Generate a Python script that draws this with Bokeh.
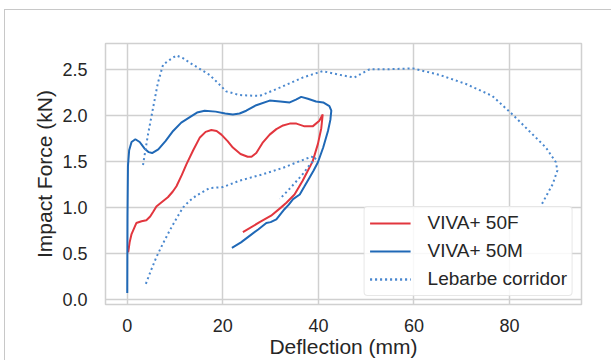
from bokeh.plotting import figure
from bokeh.models import FixedTicker, NumeralTickFormatter, Range1d, Legend, LegendItem
from bokeh.embed import file_html
from bokeh.resources import INLINE

# VIVA+ 50F
red_x = [0.2, 0.5, 0.9, 1.9, 3.0, 4.0, 4.8, 5.4, 6.1, 6.8, 8.5, 9.5, 10.3, 11.4, 12.4, 13.8, 15.2, 16.4,
         17.6, 18.7, 19.7, 21.0, 22.1, 23.7, 25.2, 26.0, 27.0, 28.3, 29.8, 31.2, 32.6, 34.0, 35.4, 37.1,
         38.8, 40.2, 40.9, 40.6, 39.9, 38.8, 37.7, 36.7, 35.0, 33.3, 32.2, 30.1, 27.7, 24.2]
red_y = [0.51, 0.62, 0.71, 0.83, 0.85, 0.86, 0.90, 0.95, 1.01, 1.04, 1.11, 1.17, 1.23, 1.35, 1.47, 1.62, 1.76, 1.82,
         1.84, 1.83, 1.79, 1.72, 1.65, 1.58, 1.55, 1.55, 1.59, 1.70, 1.79, 1.85, 1.89, 1.91, 1.91, 1.88,
         1.88, 1.94, 2.01, 1.86, 1.69, 1.50, 1.39, 1.29, 1.14, 1.05, 1.00, 0.91, 0.84, 0.73]

# VIVA+ 50M
blue_x = [0.0, 0.05, 0.15, 0.4, 0.9, 1.7, 2.6, 3.6, 4.5, 5.2, 6.5, 8.0, 9.6, 11.3, 13.1, 14.6, 16.2, 18.5,
          20.5, 22.1, 23.5, 24.9, 27.0, 29.8, 32.0, 34.0, 35.3, 36.4, 37.8, 39.5, 41.0, 42.3, 42.7, 42.5,
          42.0, 41.0, 39.9, 39.0, 38.1, 37.0, 36.1, 34.7, 33.8, 32.9, 31.2, 30.0, 29.1, 27.4, 25.6, 23.8, 21.9]
blue_y = [0.07, 0.9, 1.45, 1.62, 1.71, 1.74, 1.71, 1.64, 1.60, 1.59, 1.63, 1.72, 1.83, 1.92, 1.98, 2.03, 2.05, 2.04,
          2.02, 2.01, 2.02, 2.05, 2.11, 2.16, 2.15, 2.14, 2.17, 2.20, 2.18, 2.15, 2.14, 2.10, 2.05, 1.95,
          1.83, 1.65, 1.49, 1.40, 1.32, 1.22, 1.14, 1.09, 1.03, 0.98, 0.87, 0.84, 0.83, 0.76, 0.69, 0.62, 0.56]

# Lebarbe corridor (upper and lower bounds)
up_x = [3.3, 4.3, 5.4, 6.4, 7.5, 8.8, 10.3, 11.7, 13.1, 15.0, 17.2, 19.0, 20.7, 23.5, 27.7, 31.9, 36.7, 40.9,
        44.4, 47.5, 50.7, 54.2, 59.7, 65.3, 70.9, 76.4, 80.6, 84.1, 87.6, 89.7, 90.0, 89.0, 86.8]
up_y = [1.46, 1.78, 2.08, 2.35, 2.55, 2.60, 2.65, 2.62, 2.57, 2.51, 2.44, 2.35, 2.26, 2.22, 2.21, 2.30, 2.41, 2.48,
        2.44, 2.41, 2.50, 2.50, 2.51, 2.44, 2.34, 2.21, 2.01, 1.83, 1.65, 1.49, 1.40, 1.25, 1.04]
lo_x = [3.9, 5.0, 6.1, 7.5, 8.9, 10.3, 11.7, 13.0, 14.5, 17.2, 20.0, 23.5, 28.4, 32.6, 36.0, 38.5, 39.5, 38.0,
        36.7, 34.3, 31.9]
lo_y = [0.17, 0.32, 0.46, 0.61, 0.75, 0.88, 1.00, 1.07, 1.13, 1.21, 1.22, 1.29, 1.36, 1.43, 1.50, 1.55, 1.54, 1.45,
        1.36, 1.22, 1.09]

x_ticks = [0, 20, 40, 60, 80]
y_ticks = [0.0, 0.5, 1.0, 1.5, 2.0, 2.5]

RED = "#e2363e"
BLUE = "#1f68b6"
LBLUE = "#4a88cf"
GRID = "#d0d0d0"
TXT = "#262626"
FONT = "Liberation Sans"

p = figure(width=607, height=351, output_backend="svg", toolbar_location=None,
           x_range=Range1d(-4.55, 95.05), y_range=Range1d(-0.055, 2.78),
           min_border_left=100, min_border_right=31, min_border_top=33, min_border_bottom=57)
p.styles = {"margin-left": "4px", "margin-top": "9px",
            "border-left": "1px solid #c8c8c8", "border-top": "1px solid #c8c8c8"}

p.background_fill_color = "white"
p.border_fill_color = "white"
p.outline_line_color = GRID
p.outline_line_width = 1.5

for ax in (p.xaxis[0], p.yaxis[0]):
    ax.axis_line_color = None
    ax.major_tick_line_color = None
    ax.minor_tick_line_color = None
    ax.major_label_text_font = FONT
    ax.major_label_text_font_size = "18px"
    ax.major_label_text_color = TXT
    ax.axis_label_text_font = FONT
    ax.axis_label_text_font_size = "21px"
    ax.axis_label_text_font_style = "normal"
    ax.axis_label_text_color = TXT

p.xaxis.ticker = FixedTicker(ticks=x_ticks)
p.yaxis.ticker = FixedTicker(ticks=y_ticks)
p.yaxis.formatter = NumeralTickFormatter(format="0.0")
p.xaxis.axis_label = "Deflection (mm)"
p.yaxis.axis_label = "Impact Force (kN)"
p.xaxis.major_label_standoff = 8
p.yaxis.major_label_standoff = 12
p.xaxis.axis_label_standoff = 0
p.yaxis.axis_label_standoff = 3

p.xgrid.grid_line_color = GRID
p.ygrid.grid_line_color = GRID
p.xgrid.grid_line_width = 1.5
p.ygrid.grid_line_width = 1.5

r_red = p.line(red_x, red_y, line_color=RED, line_width=2)
r_blue = p.line(blue_x, blue_y, line_color=BLUE, line_width=2)
r_up = p.line(up_x, up_y, line_color=LBLUE, line_width=2, line_dash="2 3")
r_lo = p.line(lo_x, lo_y, line_color=LBLUE, line_width=2, line_dash="2 3")

legend = Legend(items=[
    LegendItem(label="VIVA+ 50F", renderers=[r_red]),
    LegendItem(label="VIVA+ 50M", renderers=[r_blue]),
    LegendItem(label="Lebarbe corridor", renderers=[r_up, r_lo]),
], location="bottom_right")
legend.label_text_font = FONT
legend.label_text_font_size = "19px"
legend.label_text_color = TXT
legend.glyph_width = 41
legend.glyph_height = 20
legend.label_height = 20
legend.label_standoff = 17
legend.spacing = 6
legend.padding = 5
legend.margin = 8
legend.border_line_color = GRID
legend.border_line_width = 1
legend.background_fill_color = "white"
legend.background_fill_alpha = 0.85
if "border_radius" in legend.properties():
    legend.border_radius = 4
p.add_layout(legend)

open("out.html", "w").write(file_html(p, INLINE))
